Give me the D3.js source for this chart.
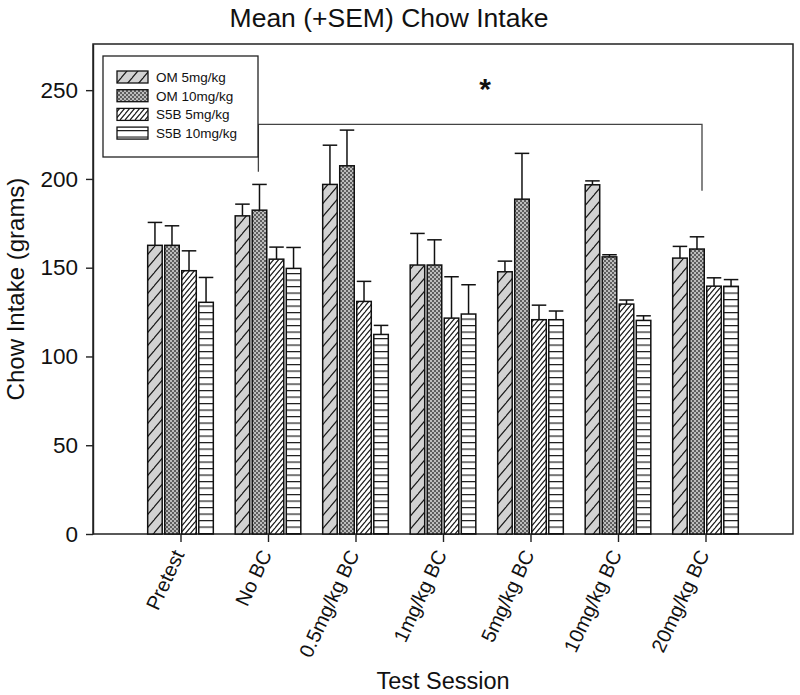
<!DOCTYPE html>
<html>
<head>
<meta charset="utf-8">
<script src="https://cdn.jsdelivr.net/npm/d3@7"></script>
<style>
  html, body { margin: 0; padding: 0; background: #fff; }
  svg { display: block; }
  text { font-family: "Liberation Sans", Arial, sans-serif; fill: #111; }
</style>
</head>
<body>
<svg id="chart" width="800" height="695"></svg>
<script>
// ---------------- data ----------------
const categories = ["Pretest", "No BC", "0.5mg/kg BC", "1mg/kg BC", "5mg/kg BC", "10mg/kg BC", "20mg/kg BC"];
const seriesNames = ["OM 5mg/kg", "OM 10mg/kg", "S5B 5mg/kg", "S5B 10mg/kg"];
const om5      = [162.6, 179.2, 196.9, 151.5, 147.7, 196.7, 155.4];
const om5Sem   = [12.9, 6.6, 22.1, 17.8, 6.0, 2.2, 6.6];
const om10     = [162.6, 182.4, 207.4, 151.5, 188.6, 156.1, 160.5];
const om10Sem  = [11.0, 14.5, 20.1, 14.2, 25.8, 1.2, 6.9];
const s5b5     = [148.3, 154.8, 131.0, 121.6, 120.7, 129.5, 139.6];
const s5b5Sem  = [11.2, 6.8, 11.3, 23.3, 8.2, 2.3, 4.7];
const s5b10    = [130.5, 149.6, 112.4, 123.9, 120.7, 120.3, 139.5];
const s5b10Sem = [14.0, 11.8, 5.1, 16.5, 4.9, 2.6, 3.8];
const yTicks = [0, 50, 100, 150, 200, 250];
// significance bracket (category index positions and values)
const bracketFrom = 0.89, bracketTo = 5.96;
const bracketTop = 230.7, bracketLeftEnd = 204, bracketRightEnd = 193.4;
const starPos = [3.48, 252.9];

const seriesValues = [om5, om10, s5b5, s5b10];
const seriesSems = [om5Sem, om10Sem, s5b5Sem, s5b10Sem];
const seriesPatterns = ["p-om5", "p-om10", "p-s5b5", "p-s5b10"];

// ---------------- layout ----------------
const svg = d3.select("#chart");
const pLeft = 93, pRight = 793, pTop = 44, pBottom = 534;

const x = d3.scaleLinear().domain([-1, 7]).range([pLeft, pRight]);
const y = d3.scaleLinear().domain([0, 276]).range([pBottom, pTop]);
const groupHalf = 0.375;
const inner = d3.scaleBand().domain(d3.range(4)).paddingInner(0.147).paddingOuter(0);

// ---------------- patterns ----------------
const defs = svg.append("defs");
function pat(id, w, h) {
  return defs.append("pattern").attr("id", id).attr("patternUnits", "userSpaceOnUse")
    .attr("width", w).attr("height", h);
}
{
  const w = 11, h = 13;
  const p = pat("p-om5", w, h);
  p.append("rect").attr("width", w).attr("height", h).attr("fill", "#d2d2d2");
  p.append("path").attr("d", `M0,${h} L${w},0 M${-w},${h} L0,0 M${w},${2*h} L${2*w},${h} M0,${2*h} L${w},${h} M${-w},${2*h} L0,${h} M0,0 L${w},${-h}`)
    .attr("stroke", "#1a1a1a").attr("stroke-width", 1.2);
}
{
  const p = pat("p-om10", 4, 4);
  p.append("rect").attr("width", 4).attr("height", 4).attr("fill", "#bdbdbd");
  p.append("rect").attr("x", 0).attr("y", 0).attr("width", 2).attr("height", 2).attr("fill", "#5e5e5e");
  p.append("rect").attr("x", 2).attr("y", 2).attr("width", 2).attr("height", 2).attr("fill", "#5e5e5e");
}
{
  const w = 5, h = 6;
  const p = pat("p-s5b5", w, h);
  p.append("rect").attr("width", w).attr("height", h).attr("fill", "#fff");
  p.append("path").attr("d", `M0,${h} L${w},0 M${-w},${h} L0,0 M${w},${2*h} L${2*w},${h} M0,${2*h} L${w},${h} M0,0 L${w},${-h}`)
    .attr("stroke", "#1a1a1a").attr("stroke-width", 1.2);
}
{
  const p = pat("p-s5b10", 8, 6.5);
  p.append("rect").attr("width", 8).attr("height", 6.5).attr("fill", "#fff");
  p.append("line").attr("x1", 0).attr("x2", 8).attr("y1", 0.6).attr("y2", 0.6)
    .attr("stroke", "#1a1a1a").attr("stroke-width", 1.2);
}

// ---------------- title ----------------
svg.append("text").attr("x", 389).attr("y", 27).attr("text-anchor", "middle")
  .attr("font-size", 26.5).text("Mean (+SEM) Chow Intake");

// ---------------- axes ----------------
const yAxis = svg.append("g").attr("transform", `translate(${pLeft},0)`)
  .call(d3.axisLeft(y).tickValues(yTicks).tickSize(7).tickPadding(8).tickSizeOuter(0));
yAxis.selectAll("text").attr("font-size", 22.5).style("font-family", "'Liberation Sans', Arial, sans-serif");
yAxis.selectAll("line,path").attr("stroke", "#222").attr("stroke-width", 1.4);

const xAxis = svg.append("g").attr("transform", `translate(0,${pBottom})`)
  .call(d3.axisBottom(x).tickValues(d3.range(categories.length)).tickFormat(i => categories[i]).tickSize(8).tickSizeOuter(0));
xAxis.select(".domain").remove();
xAxis.selectAll("line").attr("stroke", "#222").attr("stroke-width", 1.4);
xAxis.selectAll("text")
  .attr("font-size", 20).style("font-family", "'Liberation Sans', Arial, sans-serif")
  .attr("text-anchor", "end")
  .attr("transform", "translate(-9,12) rotate(-65)")
  .attr("x", 0).attr("y", 0).attr("dy", "0.75em").attr("dx", "-0.1em");

// frame
svg.append("rect").attr("x", pLeft).attr("y", pTop).attr("width", pRight - pLeft).attr("height", pBottom - pTop)
  .attr("fill", "none").attr("stroke", "#222").attr("stroke-width", 1.5);

// axis titles
svg.append("text").attr("transform", `translate(24,${(pTop + pBottom) / 2}) rotate(-90)`)
  .attr("text-anchor", "middle").attr("font-size", 24).text("Chow Intake (grams)");
svg.append("text").attr("x", (pLeft + pRight) / 2).attr("y", 689).attr("text-anchor", "middle")
  .attr("font-size", 23.5).text("Test Session");

// ---------------- bars ----------------
const barsG = svg.append("g");
categories.forEach((c, i) => {
  inner.range([x(i - groupHalf), x(i + groupHalf)]);
  seriesValues.forEach((vals, s) => {
    const v = vals[i], e = seriesSems[s][i];
    const bx = inner(s), bw = inner.bandwidth();
    const cx = bx + bw / 2;
    barsG.append("line").attr("x1", cx).attr("x2", cx).attr("y1", y(v)).attr("y2", y(v + e))
      .attr("stroke", "#111").attr("stroke-width", 1.5);
    barsG.append("line").attr("x1", bx).attr("x2", bx + bw).attr("y1", y(v + e)).attr("y2", y(v + e))
      .attr("stroke", "#111").attr("stroke-width", 1.5);
    barsG.append("rect").attr("x", bx).attr("y", y(v)).attr("width", bw).attr("height", y(0) - y(v))
      .attr("fill", `url(#${seriesPatterns[s]})`).attr("stroke", "#111").attr("stroke-width", 1.5);
  });
});

// ---------------- significance bracket ----------------
svg.append("path")
  .attr("d", `M${x(bracketFrom)},${y(bracketLeftEnd)} V${y(bracketTop)} H${x(bracketTo)} V${y(bracketRightEnd)}`)
  .attr("fill", "none").attr("stroke", "#444").attr("stroke-width", 1.3);
svg.append("text").attr("x", x(starPos[0])).attr("y", y(starPos[1]) + 14)
  .attr("text-anchor", "middle").attr("font-size", 30).attr("font-weight", "bold").text("*");

// ---------------- legend ----------------
const lg = svg.append("g");
lg.append("rect").attr("x", 103).attr("y", 56).attr("width", 155).attr("height", 101)
  .attr("fill", "#fff").attr("stroke", "#222").attr("stroke-width", 1.3);
seriesNames.forEach((n, s) => {
  const yy = 71 + s * 18.7;
  lg.append("rect").attr("x", 117).attr("y", yy).attr("width", 31).attr("height", 12)
    .attr("fill", `url(#${seriesPatterns[s]})`).attr("stroke", "#111").attr("stroke-width", 1.3);
  lg.append("text").attr("x", 156).attr("y", yy + 6).attr("dy", "0.36em")
    .attr("font-size", 13.5).text(n);
});
</script>
</body>
</html>
